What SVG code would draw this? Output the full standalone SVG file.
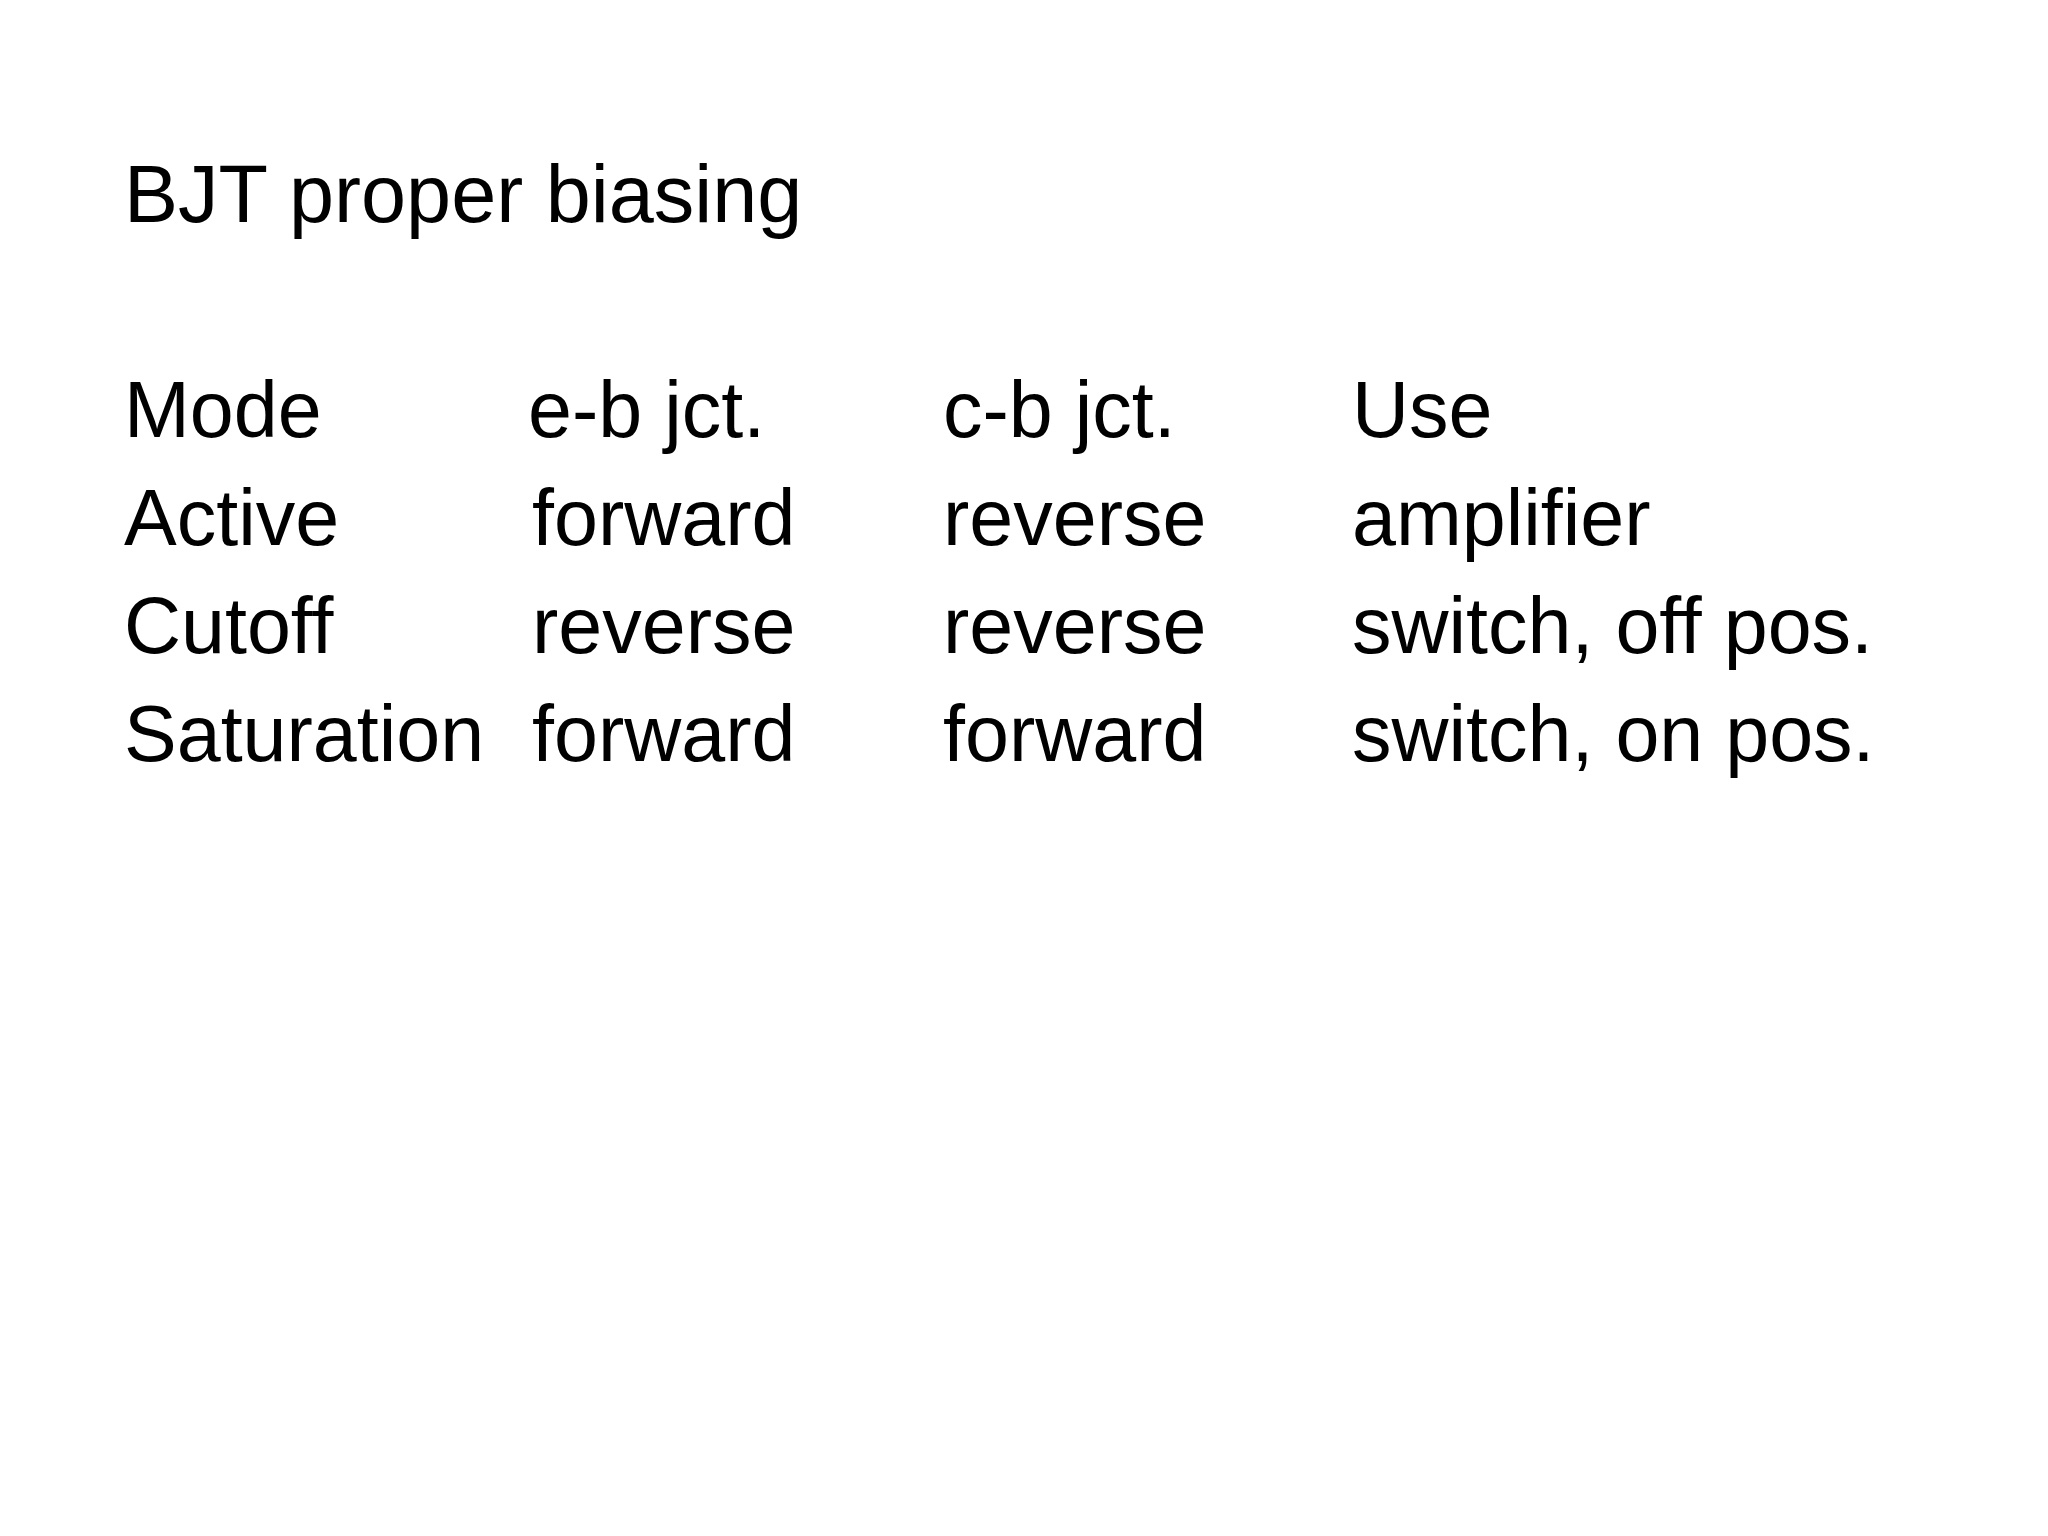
<svg xmlns="http://www.w3.org/2000/svg" width="2048" height="1536" viewBox="0 0 2048 1536">
<style>text{font-family:"Liberation Sans",Arial,sans-serif;fill:#000;font-size:79px}</style>
<rect width="2048" height="1536" fill="#fff"/>
<g id="title"><text x="124" y="222" style="font-size:81px">BJT proper biasing</text></g>
<g id="header">
<text x="124" y="437">Mode</text><text x="528" y="437">e-b jct.</text><text x="943" y="437">c-b jct.</text><text x="1352" y="437">Use</text>
</g>
<g id="row-active">
<text x="124" y="545">Active</text><text x="532" y="545">forward</text><text x="943" y="545">reverse</text><text x="1352" y="545">amplifier</text>
</g>
<g id="row-cutoff">
<text x="124" y="653">Cutoff</text><text x="532" y="653">reverse</text><text x="943" y="653">reverse</text><text x="1352" y="653">switch, off pos.</text>
</g>
<g id="row-saturation">
<text x="124" y="761">Saturation</text><text x="532" y="761">forward</text><text x="943" y="761">forward</text><text x="1352" y="761">switch, on pos.</text>
</g>
</svg>
